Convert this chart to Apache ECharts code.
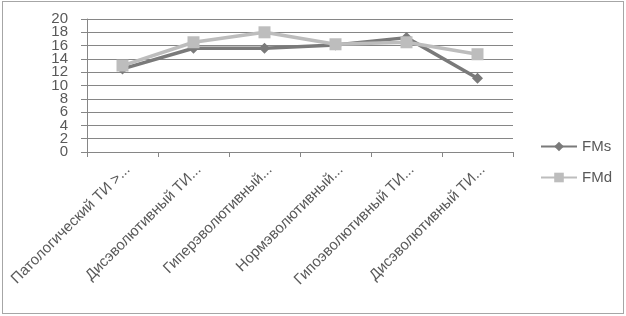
<!DOCTYPE html>
<html><head><meta charset="utf-8">
<script src="https://cdn.jsdelivr.net/npm/echarts@6/dist/echarts.min.js"></script>
<style>html,body{margin:0;padding:0;background:#fff}#c{width:626px;height:316px;position:relative}
#b{position:absolute;left:2px;top:1px;width:620px;height:311px;border:1px solid #a6a6a6;pointer-events:none}</style>
</head><body><div id="c"></div><div id="b"></div>
<script>
const categories = ["Патологический ТИ >...", "Дисэволютивный ТИ...", "Гиперэволютивный...", "Нормэволютивный...", "Гипоэволютивный ТИ...", "Дисэволютивный ТИ..."];
const fms = [12.5, 15.6, 15.6, 16.1, 17.2, 11.1];
const fmd = [13.0, 16.5, 18.0, 16.2, 16.5, 14.7];
const yTicks = [0, 2, 4, 6, 8, 10, 12, 14, 16, 18, 20];
const chart = echarts.init(document.getElementById('c'), null, {renderer:'canvas'});
const font = "'Liberation Sans', Arial, sans-serif";
chart.setOption({
  animation:false,
  backgroundColor:'#fff',
  grid:{left:87, right:113, top:19, bottom:164, containLabel:false},
  legend:{orient:'vertical', left:535, top:134, itemWidth:36, itemHeight:12, itemGap:16,
    textStyle:{fontFamily:font, fontSize:15, color:'#595959'},
    data:['FMs','FMd']},
  xAxis:{type:'category', data:categories, boundaryGap:true,
    axisLine:{lineStyle:{color:'#868686'}},
    axisTick:{show:true, length:5, lineStyle:{color:'#868686'}},
    axisLabel:{rotate:45, interval:0, fontFamily:font, fontSize:15, color:'#595959', margin:10,
      verticalAlign:'top', hideOverlap:false}},
  yAxis:{type:'value', min:yTicks[0], max:yTicks[yTicks.length-1], interval:yTicks[1]-yTicks[0],
    axisLine:{show:true, lineStyle:{color:'#868686'}},
    axisTick:{show:true, length:6, lineStyle:{color:'#868686'}},
    splitLine:{lineStyle:{color:'#868686', width:1}},
    axisLabel:{show:false}},
  series:[
    {name:'FMs', type:'line', data:fms, symbol:'diamond', symbolSize:11, z:2,
      itemStyle:{color:'#7a7a7a'}, lineStyle:{color:'#7a7a7a', width:3.5}},
    {name:'FMd', type:'line', data:fmd, symbol:'rect', symbolSize:12, z:3,
      itemStyle:{color:'#bdbdbd'}, lineStyle:{color:'#bdbdbd', width:3.5}}
  ]
});
const axisX = chart.convertToPixel({gridIndex:0}, [0, 0]);
const gridRect = chart.getModel().getComponent('grid').coordinateSystem.getRect();
chart.setOption({
  graphic: yTicks.map(v => ({
    type:'text', silent:true,
    x: gridRect.x - 19,
    y: chart.convertToPixel({yAxisIndex:0}, v),
    style:{text:String(v), fontFamily:font, fontSize:15, fill:'#595959', align:'right', verticalAlign:'middle'}
  }))
});
</script></body></html>
